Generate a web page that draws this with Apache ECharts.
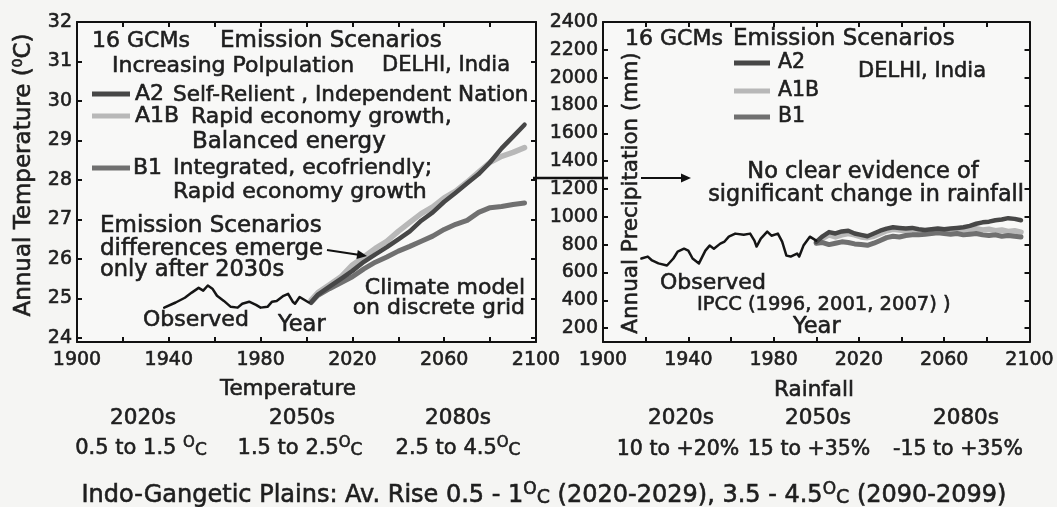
<!DOCTYPE html>
<html><head><meta charset="utf-8">
<script src="https://cdn.jsdelivr.net/npm/echarts@6/dist/echarts.min.js"></script>
<style>html,body{margin:0;padding:0;background:#f5f5f3}#c{width:1057px;height:507px}</style>
</head><body><div id="c"></div>
<script>
// ---------- data ----------
const yearLabels = [1900, 1940, 1980, 2020, 2060, 2100];
const tempTicks = [24, 25, 26, 27, 28, 29, 30, 31, 32];
const rainTicks = [200, 400, 600, 800, 1000, 1200, 1400, 1600, 1800, 2000, 2200, 2400];

const obsTempYears = [1938, 1943, 1947, 1950, 1953, 1955, 1957, 1959, 1961, 1964, 1967, 1970, 1972, 1975, 1978, 1980, 1983, 1985, 1987, 1990, 1992, 1994, 1995, 1997, 1999, 2001];
const obsTemp = [24.77, 24.9, 25.02, 25.15, 25.27, 25.2, 25.33, 25.25, 25.07, 24.94, 24.79, 24.77, 24.87, 24.92, 24.84, 24.77, 24.79, 24.92, 24.94, 25.07, 25.12, 24.92, 24.87, 25.04, 24.97, 24.9];

const projTempYears = [2002, 2005, 2010, 2015, 2020, 2025, 2030, 2035, 2040, 2045, 2050, 2055, 2060, 2065, 2070, 2075, 2080, 2085, 2090, 2095];
const a2Temp  = [24.9, 25.1, 25.3, 25.5, 25.7, 25.93, 26.12, 26.3, 26.5, 26.7, 26.97, 27.18, 27.45, 27.68, 27.92, 28.15, 28.45, 28.8, 29.1, 29.4];
const a1bTemp = [24.96, 25.15, 25.35, 25.55, 25.85, 26.05, 26.27, 26.45, 26.7, 26.93, 27.15, 27.32, 27.55, 27.72, 27.95, 28.2, 28.45, 28.6, 28.7, 28.82];
const b1Temp  = [24.9, 25.08, 25.25, 25.4, 25.55, 25.75, 25.92, 26.05, 26.2, 26.32, 26.45, 26.58, 26.75, 26.88, 26.98, 27.18, 27.3, 27.33, 27.38, 27.42];

const obsRainYears = [1918, 1921, 1923, 1926, 1930, 1933, 1935, 1938, 1940, 1942, 1945, 1948, 1950, 1952, 1955, 1957, 1959, 1962, 1966, 1969, 1971, 1972, 1974, 1977, 1979, 1982, 1984, 1986, 1988, 1991, 1992, 1994, 1997, 2000];
const obsRain = [700, 714, 686, 665, 650, 700, 750, 771, 757, 700, 665, 757, 793, 771, 807, 822, 857, 879, 871, 879, 829, 786, 843, 893, 864, 879, 822, 721, 714, 736, 714, 793, 857, 829];

const projRainYears = [2000, 2003, 2006, 2009, 2012, 2015, 2018, 2021, 2024, 2027, 2030, 2033, 2036, 2039, 2042, 2045, 2048, 2051, 2054, 2057, 2060, 2063, 2066, 2069, 2072, 2075, 2078, 2081, 2084, 2087, 2090, 2093, 2096];
const a2Rain  = [820, 860, 890, 880, 895, 900, 880, 870, 860, 880, 900, 915, 925, 920, 915, 920, 910, 905, 910, 915, 910, 915, 920, 925, 935, 950, 960, 965, 975, 980, 990, 985, 975];
const a1bRain = [815, 845, 870, 855, 870, 880, 870, 855, 850, 860, 880, 900, 910, 905, 900, 905, 900, 895, 900, 905, 900, 900, 905, 900, 910, 915, 905, 910, 900, 905, 895, 900, 890];
const b1Rain  = [810, 815, 800, 810, 820, 815, 805, 800, 795, 810, 830, 850, 860, 855, 865, 870, 870, 875, 880, 885, 880, 875, 880, 870, 875, 880, 870, 865, 870, 860, 865, 860, 855];

// ---------- styling ----------
const FONT = '"DejaVu Sans", sans-serif';
const INK = '#1e1e1e';
const C_A2 = '#474747', C_A1B = '#b8b8b8', C_B1 = '#707070', C_OBS = '#151515';
const BOLDEN = 0.6;

const zip = (xs, ys) => xs.map((x, i) => [x, ys[i]]);

function xAx(gi, pos, showLabel) {
  return {
    type: 'value', gridIndex: gi, position: pos, min: 1900, max: 2100, interval: 20,
    axisLine: { show: true, onZero: false, lineStyle: { color: '#111', width: 2 } },
    axisTick: { show: true, inside: true, length: 5, lineStyle: { color: '#111', width: 2 } },
    axisLabel: { show: showLabel, margin: 9, fontSize: 19, fontFamily: FONT, color: INK,
      textBorderColor: INK, textBorderWidth: BOLDEN,
      formatter: v => yearLabels.indexOf(v) >= 0 ? String(v) : '' },
    splitLine: { show: false }
  };
}
function yAx(gi, pos, showLabel, min, max, ticks) {
  return {
    type: 'value', gridIndex: gi, position: pos, min: min, max: max,
    axisLine: { show: true, onZero: false, lineStyle: { color: '#111', width: 2 } },
    axisTick: { show: true, inside: true, length: 5, customValues: ticks, lineStyle: { color: '#111', width: 2 } },
    axisLabel: { show: showLabel, margin: 5, fontSize: 19, fontFamily: FONT, color: INK, customValues: ticks,
      textBorderColor: INK, textBorderWidth: BOLDEN,
      formatter: v => String(v) },
    splitLine: { show: false }
  };
}
function line(xi, data, color, width, z) {
  return { type: 'line', xAxisIndex: xi, yAxisIndex: xi, data: data, showSymbol: false, symbol: 'none',
    lineStyle: { color: color, width: width, cap: 'round', join: 'round' }, z: z, silent: true };
}

function T(x, y, text, size, opts) {
  opts = opts || {};
  const al = opts.align || 'left';
  return {
    type: 'text', x: x, y: y, rotation: opts.rot || 0, z: 100, silent: true,
    style: {
      legacy: false,
      text: text, fontFamily: FONT, fontSize: size, fill: INK,
      stroke: INK, lineWidth: BOLDEN,
      align: al, textAlign: al, verticalAlign: 'middle', textVerticalAlign: 'middle',
      rich: opts.rich
    }
  };
}
function L(x1, y1, x2, y2, color, w) {
  return { type: 'line', z: 100, silent: true, shape: { x1: x1, y1: y1, x2: x2, y2: y2 },
    style: { stroke: color, lineWidth: w } };
}
function arrowHead(x1, y1, x2, y2, len, half) {
  const dx = x2 - x1, dy = y2 - y1, d = Math.hypot(dx, dy), ux = dx / d, uy = dy / d;
  const bx = x2 - ux * len, by = y2 - uy * len;
  return { type: 'polygon', z: 100, silent: true,
    shape: { points: [[x2, y2], [bx - uy * half, by + ux * half], [bx + uy * half, by - ux * half]] },
    style: { fill: '#111' } };
}

// rich styles: m = main text, o = raised degree "O", c = small "C" on the baseline
function degRich(size, oScale) {
  const so = Math.round(size * (oScale || 0.72)), sc = Math.round(size * 0.8);
  const pm = 6, H = pm + size + 2;
  const B = pm + 0.85 * size;
  const pc = B - 0.85 * sc;
  const capMid = B - 0.365 * size;
  const po = capMid - 0.85 * so;
  const base = { fontFamily: FONT, fill: INK, stroke: INK, lineWidth: BOLDEN, verticalAlign: 'top' };
  return {
    m: Object.assign({}, base, { fontSize: size, padding: [pm, 0, H - pm - size, 0] }),
    o: Object.assign({}, base, { fontSize: so, padding: [po, 0, H - po - so, 0] }),
    c: Object.assign({}, base, { fontSize: sc, padding: [pc, 0, H - pc - sc, 0] })
  };
}

const graphics = [
  // y-axis titles
  T(22, 175, '{m|Annual Temperature (}{o|0}{m|C)}', 23, { rot: Math.PI / 2, align: 'center', rich: degRich(23, 0.62) }),
  T(631, 193, 'Annual Precipitation (mm)', 21.5, { rot: Math.PI / 2, align: 'center' }),

  // left panel annotations
  T(92, 41, '16 GCMs', 22), T(220, 41, 'Emission Scenarios', 23),
  T(112, 66, 'Increasing Polpulation', 22), T(382, 66, 'DELHI, India', 21),
  L(92, 94, 130, 94, C_A2, 5), T(135, 94, 'A2', 22), T(173, 95, 'Self-Relient , Independent Nation', 21.5),
  L(92, 116, 130, 116, C_A1B, 5), T(135, 116, 'A1B', 22), T(191, 117, 'Rapid economy growth,', 22),
  T(192, 142, 'Balanced energy', 23),
  L(92, 168, 130, 168, C_B1, 5), T(133, 168, 'B1', 22), T(173, 168, 'Integrated, ecofriendly;', 22),
  T(173, 192, 'Rapid economy growth', 22),
  T(100, 226, 'Emission Scenarios', 23),
  T(100, 249, 'differences emerge', 23),
  T(100, 270, 'only after 2030s', 22.5),
  L(327, 250, 360, 255, '#111', 2), arrowHead(327, 250, 367, 256, 10, 4.5),
  T(143, 320, 'Observed', 22),
  T(278, 325, 'Year', 22.5),
  T(525, 288, 'Climate model', 22, { align: 'right' }),
  T(525, 308, 'on discrete grid', 22, { align: 'right' }),

  // right panel annotations
  T(625, 39, '16 GCMs', 22), T(733, 39, 'Emission Scenarios', 23),
  L(734, 63, 770, 63, C_A2, 5), T(778, 63, 'A2', 20.5),
  L(734, 91, 770, 91, C_A1B, 5), T(778, 91, 'A1B', 20.5),
  L(734, 117, 770, 117, C_B1, 5), T(778, 117, 'B1', 20.5),
  T(858, 72, 'DELHI, India', 21),
  T(863, 172, 'No clear evidence of', 22.5, { align: 'center' }),
  T(1024, 195, 'significant change in rainfall', 22.3, { align: 'right' }),
  L(533, 178, 608, 178, '#111', 2.5),
  L(641, 178, 684, 178, '#111', 2), arrowHead(641, 178, 691, 178, 10, 4.5),
  T(660, 283, 'Observed', 22),
  T(697, 305, 'IPCC (1996, 2001, 2007) )', 19.5),
  T(793, 327, 'Year', 22.5),

  // bottom text block
  T(288, 389, 'Temperature', 21.5, { align: 'center' }),
  T(814, 390, 'Rainfall', 21.5, { align: 'center' }),
  T(143, 418, '2020s', 21.5, { align: 'center' }),
  T(302, 418, '2050s', 21.5, { align: 'center' }),
  T(458, 418, '2080s', 21.5, { align: 'center' }),
  T(141, 447, '{m|0.5 to 1.5 }{o|O}{c|C}', 21, { align: 'center', rich: degRich(21) }),
  T(300, 447, '{m|1.5 to 2.5}{o|O}{c|C}', 21, { align: 'center', rich: degRich(21) }),
  T(458, 447, '{m|2.5 to 4.5}{o|O}{c|C}', 21, { align: 'center', rich: degRich(21) }),
  T(681, 418, '2020s', 21.5, { align: 'center' }),
  T(818, 418, '2050s', 21.5, { align: 'center' }),
  T(966, 418, '2080s', 21.5, { align: 'center' }),
  T(678, 450, '10 to +20%', 20.5, { align: 'center' }),
  T(809, 450, '15 to +35%', 20.5, { align: 'center' }),
  T(958, 450, '-15 to +35%', 20.5, { align: 'center' }),
  T(544, 494, '{m|Indo-Gangetic Plains: Av. Rise 0.5 - 1}{o|O}{c|C}{m| (2020-2029), 3.5 - 4.5}{o|O}{c|C}{m| (2090-2099)}', 24, { align: 'center', rich: degRich(24) })
];

const chart = echarts.init(document.getElementById('c'), null, { renderer: 'canvas' });
chart.setOption({
  animation: false,
  backgroundColor: '#f5f5f3',
  grid: [
    { left: 77, top: 22, width: 459, height: 320, show: true, backgroundColor: '#f8f8f7', borderWidth: 0 },
    { left: 603, top: 22, width: 435, height: 320, show: true, backgroundColor: '#f8f8f7', borderWidth: 0 }
  ],
  xAxis: [xAx(0, 'bottom', true), xAx(1, 'bottom', true), xAx(0, 'top', false), xAx(1, 'top', false)],
  yAxis: [
    yAx(0, 'left', true, 23.9, 32, tempTicks), yAx(1, 'left', true, 100, 2400, rainTicks),
    yAx(0, 'right', false, 23.9, 32, tempTicks), yAx(1, 'right', false, 100, 2400, rainTicks)
  ],
  series: [
    line(0, zip(projTempYears, a1bTemp), C_A1B, 5.5, 2),
    line(0, zip(projTempYears, b1Temp), C_B1, 5, 3),
    line(0, zip(projTempYears, a2Temp), C_A2, 4.5, 4),
    line(0, zip(obsTempYears, obsTemp), C_OBS, 2.5, 5),
    line(1, zip(projRainYears, a1bRain), C_A1B, 5.5, 2),
    line(1, zip(projRainYears, b1Rain), C_B1, 5, 3),
    line(1, zip(projRainYears, a2Rain), C_A2, 4.5, 4),
    line(1, zip(obsRainYears, obsRain), C_OBS, 2.5, 5)
  ],
  graphic: graphics
});
</script>
</body></html>
